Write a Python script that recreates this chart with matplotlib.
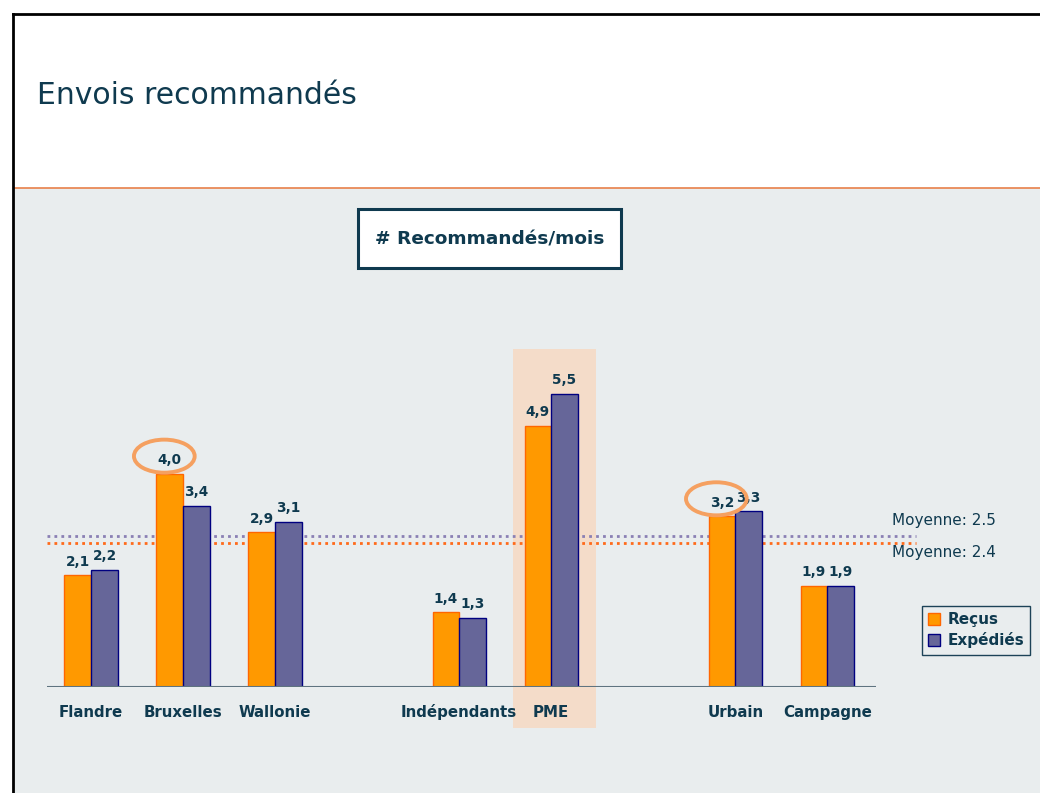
import matplotlib
matplotlib.use('Agg')
from matplotlib import pyplot as plt
from matplotlib.patches import Rectangle, Ellipse
from matplotlib.lines import Line2D

# données
categories = ['Flandre', 'Bruxelles', 'Wallonie', 'Indépendants', 'PME', 'Urbain', 'Campagne']
positions = [0, 1, 2, 4, 5, 7, 8]
recus = [2.1, 4.0, 2.9, 1.4, 4.9, 3.2, 1.9]
expedies = [2.2, 3.4, 3.1, 1.3, 5.5, 3.3, 1.9]
series_names = ['Reçus', 'Expédiés']
avg_labels = ['Moyenne: 2.5', 'Moyenne: 2.4']
avg_levels = [2.83, 2.70]  # hauteur des lignes telle que dessinée
circled = [(1, 4.0), (7, 3.2)]  # étiquettes entourées (position, valeur)
highlight = 5  # PME

W, H = 1040, 793
NAVY = '#0f3a4f'
ORANGE = '#ff9900'
PURPLE = '#666699'


def fx(x):
	return x / W


def fy(y):
	return 1 - y / H


fig = plt.figure(figsize=(W / 100, H / 100), dpi=100)
fig.patch.set_facecolor('white')

# fond gris + cadre
fig.add_artist(Rectangle((fx(14), 0), 1 - fx(14), fy(188), transform=fig.transFigure,
                         facecolor='#e9edee', edgecolor='none', zorder=0))
fig.add_artist(Line2D([fx(14), 1], [fy(188), fy(188)], color='#e8804a', lw=1.2))
fig.add_artist(Line2D([fx(13), fx(13)], [0, fy(14)], color='black', lw=2))
fig.add_artist(Line2D([fx(13), 1], [fy(14), fy(14)], color='black', lw=2))
fig.text(fx(37), fy(96), 'Envois recommandés', fontsize=21.5, color=NAVY,
         va='center', ha='left', family='DejaVu Sans')

# titre encadré
fig.add_artist(Rectangle((fx(358), fy(268)), fx(621) - fx(358), fy(209) - fy(268),
                         transform=fig.transFigure, facecolor='white', edgecolor=NAVY,
                         linewidth=2.2, zorder=1))
fig.text(fx(490), fy(240), '# Recommandés/mois', fontsize=13.3, fontweight='bold', color=NAVY,
         ha='center', va='center', zorder=2)

ax = fig.add_axes([fx(47), fy(687), fx(876) - fx(47), fy(349) - fy(687)])
ax.set_xlim(-0.48, 8.53)
ax.set_ylim(0, 6.34)
ax.axis('off')
ax.patch.set_alpha(0)

# mise en évidence PME
ax.add_patch(Rectangle((highlight - 0.42, -0.77), 0.91, 6.34 + 0.77, facecolor='#f8d8c0',
                       edgecolor='none', alpha=0.8, clip_on=False, zorder=0))

bw = 0.29
ax.bar([p - bw / 2 for p in positions], recus, bw, color=ORANGE, edgecolor='#ff6600',
       linewidth=1, zorder=3, label=series_names[0])
ax.bar([p + bw / 2 for p in positions], expedies, bw, color=PURPLE, edgecolor='#000080',
       linewidth=1, zorder=3, label=series_names[1])
ax.axhline(0, color='#5f7480', lw=1.5, zorder=4)

for p, r, e in zip(positions, recus, expedies):
	ax.text(p - bw / 2, r + 0.12, ('%.1f' % r).replace('.', ','), ha='center', va='bottom',
	        fontsize=9.8, fontweight='bold', color=NAVY, zorder=5)
	ax.text(p + bw / 2, e + 0.12, ('%.1f' % e).replace('.', ','), ha='center', va='bottom',
	        fontsize=9.8, fontweight='bold', color=NAVY, zorder=5)
	ax.text(p, -0.47, categories[positions.index(p)], ha='center', va='center',
	        fontsize=10.8, fontweight='bold', color=NAVY)

for p, v in circled:
	ax.add_patch(Ellipse((p - bw / 2 - 0.06, v + 0.33), 0.66, 0.62, facecolor='none',
	                     edgecolor='#f5a060', lw=2.8, zorder=6, clip_on=False))

# lignes moyennes
x_end = (916 - 47) / (876 - 47) * 9.01 - 0.48
ax.plot([-0.48, x_end], [avg_levels[0]] * 2, color='#8a80b4', lw=2, ls=(0, (1, 1.5)),
        clip_on=False, zorder=2)
ax.plot([-0.48, x_end], [avg_levels[1]] * 2, color='#ff6a1a', lw=2, ls=(0, (1, 1.5)),
        clip_on=False, zorder=2)
fig.text(fx(892), fy(521), avg_labels[0], fontsize=11, color=NAVY, va='center')
fig.text(fx(892), fy(553), avg_labels[1], fontsize=11, color=NAVY, va='center')

leg = fig.legend(loc='upper left', bbox_to_anchor=(fx(922), fy(606)), frameon=True,
                 fancybox=False, edgecolor='#1d4358', facecolor='#e9edee', framealpha=1,
                 handlelength=0.8, handleheight=0.8, handletextpad=0.45, borderpad=0.4,
                 labelspacing=0.35, borderaxespad=0,
                 prop={'weight': 'bold', 'size': 11})
for t in leg.get_texts():
	t.set_color(NAVY)

plt.savefig('out.png', dpi=100)
